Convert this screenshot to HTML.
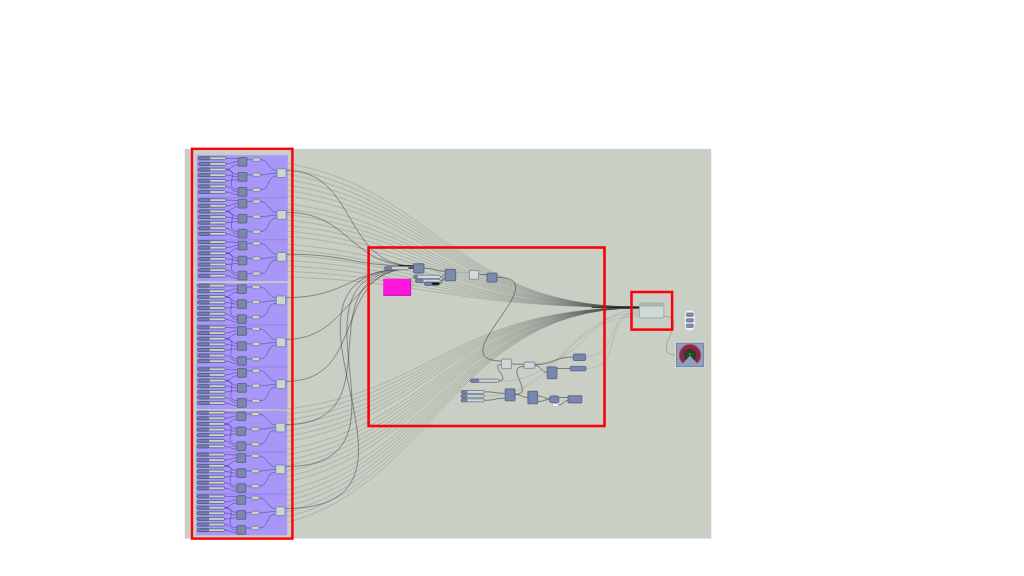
<!DOCTYPE html>
<html><head><meta charset="utf-8"><title>Grasshopper definition</title>
<style>
html,body{margin:0;padding:0;background:#fff;width:1024px;height:576px;overflow:hidden;font-family:"Liberation Sans",sans-serif}
svg{display:block;position:absolute;left:0;top:0}
</style></head><body>
<svg width="1024" height="576" viewBox="0 0 1024 576">
<defs><clipPath id="cv"><rect x="184.5" y="148.8" width="527" height="390"/></clipPath><filter id="bl" x="-5%" y="-5%" width="110%" height="110%"><feGaussianBlur stdDeviation="0.42"/></filter><filter id="bl2" x="-30%" y="-30%" width="160%" height="160%"><feGaussianBlur stdDeviation="0.7"/></filter></defs>
<g filter="url(#bl)">
<g clip-path="url(#cv)">
<rect x="184.5" y="148.8" width="527" height="390" fill="#c9cfc4"/>
<path d="M226 158.3C432.7 158.3 432.7 307.13 639.4 307.13M226 163.92C432.7 163.92 432.7 307.14 639.4 307.14M226 169.54C432.7 169.54 432.7 307.15 639.4 307.15M226 175.16C432.7 175.16 432.7 307.16 639.4 307.16M226 180.78C432.7 180.78 432.7 307.18 639.4 307.18M226 186.4C432.7 186.4 432.7 307.19 639.4 307.19M226 192.02C432.7 192.02 432.7 307.2 639.4 307.2M226 200.17C432.7 200.17 432.7 307.21 639.4 307.21M226 205.79C432.7 205.79 432.7 307.22 639.4 307.22M226 211.41C432.7 211.41 432.7 307.24 639.4 307.24M226 217.03C432.7 217.03 432.7 307.25 639.4 307.25M226 222.65C432.7 222.65 432.7 307.26 639.4 307.26M226 228.27C432.7 228.27 432.7 307.27 639.4 307.27M226 233.89C432.7 233.89 432.7 307.28 639.4 307.28M226 242.04C432.7 242.04 432.7 307.3 639.4 307.3M226 247.66C432.7 247.66 432.7 307.31 639.4 307.31M226 253.28C432.7 253.28 432.7 307.32 639.4 307.32M226 258.9C432.7 258.9 432.7 307.33 639.4 307.33M226 264.52C432.7 264.52 432.7 307.34 639.4 307.34M226 270.14C432.7 270.14 432.7 307.36 639.4 307.36M226 275.76C432.7 275.76 432.7 307.37 639.4 307.37M224.8 412.7C432.1 412.7 432.1 307.63 639.4 307.63M224.8 418.32C432.1 418.32 432.1 307.64 639.4 307.64M224.8 423.94C432.1 423.94 432.1 307.66 639.4 307.66M224.8 429.56C432.1 429.56 432.1 307.67 639.4 307.67M224.8 435.18C432.1 435.18 432.1 307.68 639.4 307.68M224.8 440.8C432.1 440.8 432.1 307.69 639.4 307.69M224.8 446.42C432.1 446.42 432.1 307.7 639.4 307.7M224.8 454.57C432.1 454.57 432.1 307.72 639.4 307.72M224.8 460.19C432.1 460.19 432.1 307.73 639.4 307.73M224.8 465.81C432.1 465.81 432.1 307.74 639.4 307.74M224.8 471.43C432.1 471.43 432.1 307.75 639.4 307.75M224.8 477.05C432.1 477.05 432.1 307.76 639.4 307.76M224.8 482.67C432.1 482.67 432.1 307.78 639.4 307.78M224.8 488.29C432.1 488.29 432.1 307.79 639.4 307.79M224.8 496.44C432.1 496.44 432.1 307.8 639.4 307.8M224.8 502.06C432.1 502.06 432.1 307.81 639.4 307.81M224.8 507.68C432.1 507.68 432.1 307.82 639.4 307.82M224.8 513.3C432.1 513.3 432.1 307.84 639.4 307.84M224.8 518.92C432.1 518.92 432.1 307.85 639.4 307.85M224.8 524.54C432.1 524.54 432.1 307.86 639.4 307.86M224.8 530.16C432.1 530.16 432.1 307.87 639.4 307.87" fill="none" stroke="#434f46" stroke-opacity=".38" stroke-width=".55"/>
<rect x="196.8" y="155.2" width="91" height="126.1" fill="#a38eff" fill-opacity=".86"/>
<rect x="196.8" y="196.97" width="91" height="1.6" fill="#8f7cf0" fill-opacity=".55"/>
<rect x="196.8" y="238.84" width="91" height="1.6" fill="#8f7cf0" fill-opacity=".55"/>
<rect x="196.5" y="283" width="91" height="126.2" fill="#a38eff" fill-opacity=".86"/>
<rect x="196.5" y="324.27" width="91" height="1.6" fill="#8f7cf0" fill-opacity=".55"/>
<rect x="196.5" y="366.14" width="91" height="1.6" fill="#8f7cf0" fill-opacity=".55"/>
<rect x="196.2" y="410.8" width="91" height="124.5" fill="#a38eff" fill-opacity=".86"/>
<rect x="196.2" y="451.37" width="91" height="1.6" fill="#8f7cf0" fill-opacity=".55"/>
<rect x="196.2" y="493.24" width="91" height="1.6" fill="#8f7cf0" fill-opacity=".55"/>
<path d="M455.7 272.5C462.55 272.5 462.55 272.6 469.4 272.6M411 287C418.58 287 406.42 276.9 414 276.9M423.9 270.5C428.85 270.5 409.05 276.9 414 276.9M585.6 356.4C619.35 356.4 605.65 311.4 639.4 311.4M585.9 368.5C626.32 368.5 598.98 314.6 639.4 314.6M534.9 363.4C587.15 363.4 587.15 309.8 639.4 309.8M499.1 381.3C569.25 381.3 569.25 313 639.4 313M484.4 396.2C561.9 396.2 561.9 316 639.4 316" fill="none" stroke="#4f5a52" stroke-opacity=".3" stroke-width=".5"/>
<path d="M286.2 170.4C357.9 170.4 342.1 266 413.8 266M286.2 212.27C350 212.27 350 266 413.8 266M286.2 254.14C350 254.14 350 266 413.8 266M285.6 297.7C349.7 297.7 349.7 268.1 413.8 268.1M285.6 339.57C349.7 339.57 349.7 268.1 413.8 268.1M285.6 381.44C370.6 381.44 328.8 268.1 413.8 268.1M285 424.8C402.52 424.8 296.28 268.1 413.8 268.1M285 466.67C433.93 466.67 264.87 268.1 413.8 268.1M285 508.54C465.33 508.54 233.47 268.1 413.8 268.1" fill="none" stroke="#39333f" stroke-opacity=".7" stroke-width=".68"/>
<path d="M247.2 159.65L252.8 159.65M247.2 174.75L252.8 174.75M247.2 189.85L252.8 189.85M260.2 159.65C268.6 159.65 268.6 170.5 277 170.5M260.2 174.75C268.6 174.75 268.6 173.3 277 173.3M260.2 189.85C270.66 189.85 266.54 175.9 277 175.9M226 158.3C231.9 158.3 231.9 158.6 237.8 158.6M226 163.92C231.9 163.92 231.9 161.6 237.8 161.6M226 169.54C231.9 169.54 231.9 164.6 237.8 164.6M226 169.54C231.9 169.54 231.9 174.4 237.8 174.4M226 169.54C241.05 169.54 222.75 189.6 237.8 189.6M226 175.16C231.9 175.16 231.9 176.8 237.8 176.8M226 180.78C231.9 180.78 231.9 179.6 237.8 179.6M226 186.4C231.9 186.4 231.9 192.2 237.8 192.2M226 192.02C231.9 192.02 231.9 194.8 237.8 194.8M247.2 201.52L252.8 201.52M247.2 216.62L252.8 216.62M247.2 231.72L252.8 231.72M260.2 201.52C268.6 201.52 268.6 212.37 277 212.37M260.2 216.62C268.6 216.62 268.6 215.17 277 215.17M260.2 231.72C270.66 231.72 266.54 217.77 277 217.77M226 200.17C231.9 200.17 231.9 200.47 237.8 200.47M226 205.79C231.9 205.79 231.9 203.47 237.8 203.47M226 211.41C231.9 211.41 231.9 206.47 237.8 206.47M226 211.41C231.9 211.41 231.9 216.27 237.8 216.27M226 211.41C241.05 211.41 222.75 231.47 237.8 231.47M226 217.03C231.9 217.03 231.9 218.67 237.8 218.67M226 222.65C231.9 222.65 231.9 221.47 237.8 221.47M226 228.27C231.9 228.27 231.9 234.07 237.8 234.07M226 233.89C231.9 233.89 231.9 236.67 237.8 236.67M247.2 243.39L252.8 243.39M247.2 258.49L252.8 258.49M247.2 273.59L252.8 273.59M260.2 243.39C268.6 243.39 268.6 254.24 277 254.24M260.2 258.49C268.6 258.49 268.6 257.04 277 257.04M260.2 273.59C270.66 273.59 266.54 259.64 277 259.64M226 242.04C231.9 242.04 231.9 242.34 237.8 242.34M226 247.66C231.9 247.66 231.9 245.34 237.8 245.34M226 253.28C231.9 253.28 231.9 248.34 237.8 248.34M226 253.28C231.9 253.28 231.9 258.14 237.8 258.14M226 253.28C241.05 253.28 222.75 273.34 237.8 273.34M226 258.9C231.9 258.9 231.9 260.54 237.8 260.54M226 264.52C231.9 264.52 231.9 263.34 237.8 263.34M226 270.14C231.9 270.14 231.9 275.94 237.8 275.94M226 275.76C231.9 275.76 231.9 278.54 237.8 278.54M246.6 286.95L252.2 286.95M246.6 302.05L252.2 302.05M246.6 317.15L252.2 317.15M259.6 286.95C268 286.95 268 297.8 276.4 297.8M259.6 302.05C268 302.05 268 300.6 276.4 300.6M259.6 317.15C270.06 317.15 265.94 303.2 276.4 303.2M225.4 285.6C231.3 285.6 231.3 285.9 237.2 285.9M225.4 291.22C231.3 291.22 231.3 288.9 237.2 288.9M225.4 296.84C231.3 296.84 231.3 291.9 237.2 291.9M225.4 296.84C231.3 296.84 231.3 301.7 237.2 301.7M225.4 296.84C240.44 296.84 222.16 316.9 237.2 316.9M225.4 302.46C231.3 302.46 231.3 304.1 237.2 304.1M225.4 308.08C231.3 308.08 231.3 306.9 237.2 306.9M225.4 313.7C231.3 313.7 231.3 319.5 237.2 319.5M225.4 319.32C231.3 319.32 231.3 322.1 237.2 322.1M246.6 328.82L252.2 328.82M246.6 343.92L252.2 343.92M246.6 359.02L252.2 359.02M259.6 328.82C268 328.82 268 339.67 276.4 339.67M259.6 343.92C268 343.92 268 342.47 276.4 342.47M259.6 359.02C270.06 359.02 265.94 345.07 276.4 345.07M225.4 327.47C231.3 327.47 231.3 327.77 237.2 327.77M225.4 333.09C231.3 333.09 231.3 330.77 237.2 330.77M225.4 338.71C231.3 338.71 231.3 333.77 237.2 333.77M225.4 338.71C231.3 338.71 231.3 343.57 237.2 343.57M225.4 338.71C240.44 338.71 222.16 358.77 237.2 358.77M225.4 344.33C231.3 344.33 231.3 345.97 237.2 345.97M225.4 349.95C231.3 349.95 231.3 348.77 237.2 348.77M225.4 355.57C231.3 355.57 231.3 361.37 237.2 361.37M225.4 361.19C231.3 361.19 231.3 363.97 237.2 363.97M246.6 370.69L252.2 370.69M246.6 385.79L252.2 385.79M246.6 400.89L252.2 400.89M259.6 370.69C268 370.69 268 381.54 276.4 381.54M259.6 385.79C268 385.79 268 384.34 276.4 384.34M259.6 400.89C270.06 400.89 265.94 386.94 276.4 386.94M225.4 369.34C231.3 369.34 231.3 369.64 237.2 369.64M225.4 374.96C231.3 374.96 231.3 372.64 237.2 372.64M225.4 380.58C231.3 380.58 231.3 375.64 237.2 375.64M225.4 380.58C231.3 380.58 231.3 385.44 237.2 385.44M225.4 380.58C240.44 380.58 222.16 400.64 237.2 400.64M225.4 386.2C231.3 386.2 231.3 387.84 237.2 387.84M225.4 391.82C231.3 391.82 231.3 390.64 237.2 390.64M225.4 397.44C231.3 397.44 231.3 403.24 237.2 403.24M225.4 403.06C231.3 403.06 231.3 405.84 237.2 405.84M246 414.05L251.6 414.05M246 429.15L251.6 429.15M246 444.25L251.6 444.25M259 414.05C267.4 414.05 267.4 424.9 275.8 424.9M259 429.15C267.4 429.15 267.4 427.7 275.8 427.7M259 444.25C269.46 444.25 265.34 430.3 275.8 430.3M224.8 412.7C230.7 412.7 230.7 413 236.6 413M224.8 418.32C230.7 418.32 230.7 416 236.6 416M224.8 423.94C230.7 423.94 230.7 419 236.6 419M224.8 423.94C230.7 423.94 230.7 428.8 236.6 428.8M224.8 423.94C239.84 423.94 221.56 444 236.6 444M224.8 429.56C230.7 429.56 230.7 431.2 236.6 431.2M224.8 435.18C230.7 435.18 230.7 434 236.6 434M224.8 440.8C230.7 440.8 230.7 446.6 236.6 446.6M224.8 446.42C230.7 446.42 230.7 449.2 236.6 449.2M246 455.92L251.6 455.92M246 471.02L251.6 471.02M246 486.12L251.6 486.12M259 455.92C267.4 455.92 267.4 466.77 275.8 466.77M259 471.02C267.4 471.02 267.4 469.57 275.8 469.57M259 486.12C269.46 486.12 265.34 472.17 275.8 472.17M224.8 454.57C230.7 454.57 230.7 454.87 236.6 454.87M224.8 460.19C230.7 460.19 230.7 457.87 236.6 457.87M224.8 465.81C230.7 465.81 230.7 460.87 236.6 460.87M224.8 465.81C230.7 465.81 230.7 470.67 236.6 470.67M224.8 465.81C239.84 465.81 221.56 485.87 236.6 485.87M224.8 471.43C230.7 471.43 230.7 473.07 236.6 473.07M224.8 477.05C230.7 477.05 230.7 475.87 236.6 475.87M224.8 482.67C230.7 482.67 230.7 488.47 236.6 488.47M224.8 488.29C230.7 488.29 230.7 491.07 236.6 491.07M246 497.79L251.6 497.79M246 512.89L251.6 512.89M246 527.99L251.6 527.99M259 497.79C267.4 497.79 267.4 508.64 275.8 508.64M259 512.89C267.4 512.89 267.4 511.44 275.8 511.44M259 527.99C269.46 527.99 265.34 514.04 275.8 514.04M224.8 496.44C230.7 496.44 230.7 496.74 236.6 496.74M224.8 502.06C230.7 502.06 230.7 499.74 236.6 499.74M224.8 507.68C230.7 507.68 230.7 502.74 236.6 502.74M224.8 507.68C230.7 507.68 230.7 512.54 236.6 512.54M224.8 507.68C239.84 507.68 221.56 527.74 236.6 527.74M224.8 513.3C230.7 513.3 230.7 514.94 236.6 514.94M224.8 518.92C230.7 518.92 230.7 517.74 236.6 517.74M224.8 524.54C230.7 524.54 230.7 530.34 236.6 530.34M224.8 530.16C230.7 530.16 230.7 532.94 236.6 532.94" fill="none" stroke="#35289a" stroke-opacity=".7" stroke-width=".62"/>
<path d="M423.9 268.2C434.55 268.2 434.55 271.2 445.2 271.2M478.5 274.6C482.75 274.6 482.75 274.6 487 274.6M497 277.2C559.85 277.2 438.65 361 501.5 361M440.5 276.9C442.85 276.9 442.85 274.5 445.2 274.5M440.3 280.9C443.23 280.9 442.27 277 445.2 277M439.6 283.7C443.12 283.7 441.68 279 445.2 279M499.1 380.6C511.25 380.6 489.35 364.4 501.5 364.4M511.4 364C517.75 364 517.75 364.3 524.1 364.3M534.9 365.4C541.05 365.4 541.05 372.4 547.2 372.4M534.9 364.6C554.1 364.6 554.1 357 573.3 357M556.9 368.5C563.55 368.5 563.55 368.5 570.2 368.5M484.4 391.8C494.8 391.8 494.8 393.3 505.2 393.3M484.4 400.3C494.8 400.3 494.8 398.2 505.2 398.2M515 394.4C521.45 394.4 521.45 397.4 527.9 397.4M515 394.4C536 394.4 503.1 366.4 524.1 366.4M537.6 396C543.7 396 543.7 398.7 549.8 398.7M537.6 401.5C543.7 401.5 543.7 399.6 549.8 399.6M558.8 397.5C563.45 397.5 563.45 397.5 568.1 397.5M558.8 405.1C563.45 405.1 563.45 400.4 568.1 400.4" fill="none" stroke="#4a524c" stroke-opacity=".85" stroke-width=".8"/>
<path d="M663.8 316.2C692.9 316.2 647.2 355 676.3 355" fill="none" stroke="#4a524c" stroke-opacity=".55" stroke-width=".6"/>
<path d="M399 265.5Q407 266 413.8 266" fill="none" stroke="#15181a" stroke-width=".9" stroke-linecap="round"/>
<path d="M592 307.3L639.4 307.5" fill="none" stroke="#1c201d" stroke-width="1" stroke-linecap="round"/>
<rect x="198.5" y="156.9" width="27.4" height="2.8" rx="1.3" fill="#cad6cd" stroke="#505a8a" stroke-width=".8"/>
<rect x="198.5" y="156.9" width="11.3" height="2.8" rx="1" fill="#7686a2" stroke="#4f5886" stroke-width=".8"/>
<rect x="198.5" y="162.52" width="27.4" height="2.8" rx="1.3" fill="#cad6cd" stroke="#505a8a" stroke-width=".8"/>
<rect x="198.5" y="162.52" width="11.3" height="2.8" rx="1" fill="#7686a2" stroke="#4f5886" stroke-width=".8"/>
<rect x="198.5" y="168.14" width="27.4" height="2.8" rx="1.3" fill="#cad6cd" stroke="#505a8a" stroke-width=".8"/>
<rect x="198.5" y="168.14" width="11.3" height="2.8" rx="1" fill="#7686a2" stroke="#4f5886" stroke-width=".8"/>
<rect x="198.5" y="173.76" width="27.4" height="2.8" rx="1.3" fill="#cad6cd" stroke="#505a8a" stroke-width=".8"/>
<rect x="198.5" y="173.76" width="11.3" height="2.8" rx="1" fill="#7686a2" stroke="#4f5886" stroke-width=".8"/>
<rect x="198.5" y="179.38" width="27.4" height="2.8" rx="1.3" fill="#cad6cd" stroke="#505a8a" stroke-width=".8"/>
<rect x="198.5" y="179.38" width="11.3" height="2.8" rx="1" fill="#7686a2" stroke="#4f5886" stroke-width=".8"/>
<rect x="198.5" y="185" width="27.4" height="2.8" rx="1.3" fill="#cad6cd" stroke="#505a8a" stroke-width=".8"/>
<rect x="198.5" y="185" width="11.3" height="2.8" rx="1" fill="#7686a2" stroke="#4f5886" stroke-width=".8"/>
<rect x="198.5" y="190.62" width="27.4" height="2.8" rx="1.3" fill="#cad6cd" stroke="#505a8a" stroke-width=".8"/>
<rect x="198.5" y="190.62" width="11.3" height="2.8" rx="1" fill="#7686a2" stroke="#4f5886" stroke-width=".8"/>
<rect x="238.1" y="157.55" width="8.8" height="8.6" rx=".4" fill="#7b89a6" stroke="#57628c" stroke-width=".9"/>
<rect x="238.1" y="172.55" width="8.8" height="8.6" rx=".4" fill="#7b89a6" stroke="#57628c" stroke-width=".9"/>
<rect x="238.1" y="187.55" width="8.8" height="8.6" rx=".4" fill="#7b89a6" stroke="#57628c" stroke-width=".9"/>
<rect x="252.8" y="157.95" width="7.4" height="3.4" rx=".8" fill="#ccd5c8" stroke="#6d76a6" stroke-width=".7"/>
<rect x="252.8" y="173.05" width="7.4" height="3.4" rx=".8" fill="#ccd5c8" stroke="#6d76a6" stroke-width=".7"/>
<rect x="252.8" y="188.15" width="7.4" height="3.4" rx=".8" fill="#ccd5c8" stroke="#6d76a6" stroke-width=".7"/>
<rect x="277" y="168.7" width="9.2" height="8.8" rx=".6" fill="#cbd6cf" stroke="#6f7ea6" stroke-width=".8"/>
<rect x="198.5" y="198.77" width="27.4" height="2.8" rx="1.3" fill="#cad6cd" stroke="#505a8a" stroke-width=".8"/>
<rect x="198.5" y="198.77" width="11.3" height="2.8" rx="1" fill="#7686a2" stroke="#4f5886" stroke-width=".8"/>
<rect x="198.5" y="204.39" width="27.4" height="2.8" rx="1.3" fill="#cad6cd" stroke="#505a8a" stroke-width=".8"/>
<rect x="198.5" y="204.39" width="11.3" height="2.8" rx="1" fill="#7686a2" stroke="#4f5886" stroke-width=".8"/>
<rect x="198.5" y="210.01" width="27.4" height="2.8" rx="1.3" fill="#cad6cd" stroke="#505a8a" stroke-width=".8"/>
<rect x="198.5" y="210.01" width="11.3" height="2.8" rx="1" fill="#7686a2" stroke="#4f5886" stroke-width=".8"/>
<rect x="198.5" y="215.63" width="27.4" height="2.8" rx="1.3" fill="#cad6cd" stroke="#505a8a" stroke-width=".8"/>
<rect x="198.5" y="215.63" width="11.3" height="2.8" rx="1" fill="#7686a2" stroke="#4f5886" stroke-width=".8"/>
<rect x="198.5" y="221.25" width="27.4" height="2.8" rx="1.3" fill="#cad6cd" stroke="#505a8a" stroke-width=".8"/>
<rect x="198.5" y="221.25" width="11.3" height="2.8" rx="1" fill="#7686a2" stroke="#4f5886" stroke-width=".8"/>
<rect x="198.5" y="226.87" width="27.4" height="2.8" rx="1.3" fill="#cad6cd" stroke="#505a8a" stroke-width=".8"/>
<rect x="198.5" y="226.87" width="11.3" height="2.8" rx="1" fill="#7686a2" stroke="#4f5886" stroke-width=".8"/>
<rect x="198.5" y="232.49" width="27.4" height="2.8" rx="1.3" fill="#cad6cd" stroke="#505a8a" stroke-width=".8"/>
<rect x="198.5" y="232.49" width="11.3" height="2.8" rx="1" fill="#7686a2" stroke="#4f5886" stroke-width=".8"/>
<rect x="238.1" y="199.42" width="8.8" height="8.6" rx=".4" fill="#7b89a6" stroke="#57628c" stroke-width=".9"/>
<rect x="238.1" y="214.42" width="8.8" height="8.6" rx=".4" fill="#7b89a6" stroke="#57628c" stroke-width=".9"/>
<rect x="238.1" y="229.42" width="8.8" height="8.6" rx=".4" fill="#7b89a6" stroke="#57628c" stroke-width=".9"/>
<rect x="252.8" y="199.82" width="7.4" height="3.4" rx=".8" fill="#ccd5c8" stroke="#6d76a6" stroke-width=".7"/>
<rect x="252.8" y="214.92" width="7.4" height="3.4" rx=".8" fill="#ccd5c8" stroke="#6d76a6" stroke-width=".7"/>
<rect x="252.8" y="230.02" width="7.4" height="3.4" rx=".8" fill="#ccd5c8" stroke="#6d76a6" stroke-width=".7"/>
<rect x="277" y="210.57" width="9.2" height="8.8" rx=".6" fill="#cbd6cf" stroke="#6f7ea6" stroke-width=".8"/>
<rect x="198.5" y="240.64" width="27.4" height="2.8" rx="1.3" fill="#cad6cd" stroke="#505a8a" stroke-width=".8"/>
<rect x="198.5" y="240.64" width="11.3" height="2.8" rx="1" fill="#7686a2" stroke="#4f5886" stroke-width=".8"/>
<rect x="198.5" y="246.26" width="27.4" height="2.8" rx="1.3" fill="#cad6cd" stroke="#505a8a" stroke-width=".8"/>
<rect x="198.5" y="246.26" width="11.3" height="2.8" rx="1" fill="#7686a2" stroke="#4f5886" stroke-width=".8"/>
<rect x="198.5" y="251.88" width="27.4" height="2.8" rx="1.3" fill="#cad6cd" stroke="#505a8a" stroke-width=".8"/>
<rect x="198.5" y="251.88" width="11.3" height="2.8" rx="1" fill="#7686a2" stroke="#4f5886" stroke-width=".8"/>
<rect x="198.5" y="257.5" width="27.4" height="2.8" rx="1.3" fill="#cad6cd" stroke="#505a8a" stroke-width=".8"/>
<rect x="198.5" y="257.5" width="11.3" height="2.8" rx="1" fill="#7686a2" stroke="#4f5886" stroke-width=".8"/>
<rect x="198.5" y="263.12" width="27.4" height="2.8" rx="1.3" fill="#cad6cd" stroke="#505a8a" stroke-width=".8"/>
<rect x="198.5" y="263.12" width="11.3" height="2.8" rx="1" fill="#7686a2" stroke="#4f5886" stroke-width=".8"/>
<rect x="198.5" y="268.74" width="27.4" height="2.8" rx="1.3" fill="#cad6cd" stroke="#505a8a" stroke-width=".8"/>
<rect x="198.5" y="268.74" width="11.3" height="2.8" rx="1" fill="#7686a2" stroke="#4f5886" stroke-width=".8"/>
<rect x="198.5" y="274.36" width="27.4" height="2.8" rx="1.3" fill="#cad6cd" stroke="#505a8a" stroke-width=".8"/>
<rect x="198.5" y="274.36" width="11.3" height="2.8" rx="1" fill="#7686a2" stroke="#4f5886" stroke-width=".8"/>
<rect x="238.1" y="241.29" width="8.8" height="8.6" rx=".4" fill="#7b89a6" stroke="#57628c" stroke-width=".9"/>
<rect x="238.1" y="256.29" width="8.8" height="8.6" rx=".4" fill="#7b89a6" stroke="#57628c" stroke-width=".9"/>
<rect x="238.1" y="271.29" width="8.8" height="8.6" rx=".4" fill="#7b89a6" stroke="#57628c" stroke-width=".9"/>
<rect x="252.8" y="241.69" width="7.4" height="3.4" rx=".8" fill="#ccd5c8" stroke="#6d76a6" stroke-width=".7"/>
<rect x="252.8" y="256.79" width="7.4" height="3.4" rx=".8" fill="#ccd5c8" stroke="#6d76a6" stroke-width=".7"/>
<rect x="252.8" y="271.89" width="7.4" height="3.4" rx=".8" fill="#ccd5c8" stroke="#6d76a6" stroke-width=".7"/>
<rect x="277" y="252.44" width="9.2" height="8.8" rx=".6" fill="#cbd6cf" stroke="#6f7ea6" stroke-width=".8"/>
<rect x="197.9" y="284.2" width="27.4" height="2.8" rx="1.3" fill="#cad6cd" stroke="#505a8a" stroke-width=".8"/>
<rect x="197.9" y="284.2" width="11.3" height="2.8" rx="1" fill="#7686a2" stroke="#4f5886" stroke-width=".8"/>
<rect x="197.9" y="289.82" width="27.4" height="2.8" rx="1.3" fill="#cad6cd" stroke="#505a8a" stroke-width=".8"/>
<rect x="197.9" y="289.82" width="11.3" height="2.8" rx="1" fill="#7686a2" stroke="#4f5886" stroke-width=".8"/>
<rect x="197.9" y="295.44" width="27.4" height="2.8" rx="1.3" fill="#cad6cd" stroke="#505a8a" stroke-width=".8"/>
<rect x="197.9" y="295.44" width="11.3" height="2.8" rx="1" fill="#7686a2" stroke="#4f5886" stroke-width=".8"/>
<rect x="197.9" y="301.06" width="27.4" height="2.8" rx="1.3" fill="#cad6cd" stroke="#505a8a" stroke-width=".8"/>
<rect x="197.9" y="301.06" width="11.3" height="2.8" rx="1" fill="#7686a2" stroke="#4f5886" stroke-width=".8"/>
<rect x="197.9" y="306.68" width="27.4" height="2.8" rx="1.3" fill="#cad6cd" stroke="#505a8a" stroke-width=".8"/>
<rect x="197.9" y="306.68" width="11.3" height="2.8" rx="1" fill="#7686a2" stroke="#4f5886" stroke-width=".8"/>
<rect x="197.9" y="312.3" width="27.4" height="2.8" rx="1.3" fill="#cad6cd" stroke="#505a8a" stroke-width=".8"/>
<rect x="197.9" y="312.3" width="11.3" height="2.8" rx="1" fill="#7686a2" stroke="#4f5886" stroke-width=".8"/>
<rect x="197.9" y="317.92" width="27.4" height="2.8" rx="1.3" fill="#cad6cd" stroke="#505a8a" stroke-width=".8"/>
<rect x="197.9" y="317.92" width="11.3" height="2.8" rx="1" fill="#7686a2" stroke="#4f5886" stroke-width=".8"/>
<rect x="237.5" y="284.85" width="8.8" height="8.6" rx=".4" fill="#7b89a6" stroke="#57628c" stroke-width=".9"/>
<rect x="237.5" y="299.85" width="8.8" height="8.6" rx=".4" fill="#7b89a6" stroke="#57628c" stroke-width=".9"/>
<rect x="237.5" y="314.85" width="8.8" height="8.6" rx=".4" fill="#7b89a6" stroke="#57628c" stroke-width=".9"/>
<rect x="252.2" y="285.25" width="7.4" height="3.4" rx=".8" fill="#ccd5c8" stroke="#6d76a6" stroke-width=".7"/>
<rect x="252.2" y="300.35" width="7.4" height="3.4" rx=".8" fill="#ccd5c8" stroke="#6d76a6" stroke-width=".7"/>
<rect x="252.2" y="315.45" width="7.4" height="3.4" rx=".8" fill="#ccd5c8" stroke="#6d76a6" stroke-width=".7"/>
<rect x="276.4" y="296" width="9.2" height="8.8" rx=".6" fill="#cbd6cf" stroke="#6f7ea6" stroke-width=".8"/>
<rect x="197.9" y="326.07" width="27.4" height="2.8" rx="1.3" fill="#cad6cd" stroke="#505a8a" stroke-width=".8"/>
<rect x="197.9" y="326.07" width="11.3" height="2.8" rx="1" fill="#7686a2" stroke="#4f5886" stroke-width=".8"/>
<rect x="197.9" y="331.69" width="27.4" height="2.8" rx="1.3" fill="#cad6cd" stroke="#505a8a" stroke-width=".8"/>
<rect x="197.9" y="331.69" width="11.3" height="2.8" rx="1" fill="#7686a2" stroke="#4f5886" stroke-width=".8"/>
<rect x="197.9" y="337.31" width="27.4" height="2.8" rx="1.3" fill="#cad6cd" stroke="#505a8a" stroke-width=".8"/>
<rect x="197.9" y="337.31" width="11.3" height="2.8" rx="1" fill="#7686a2" stroke="#4f5886" stroke-width=".8"/>
<rect x="197.9" y="342.93" width="27.4" height="2.8" rx="1.3" fill="#cad6cd" stroke="#505a8a" stroke-width=".8"/>
<rect x="197.9" y="342.93" width="11.3" height="2.8" rx="1" fill="#7686a2" stroke="#4f5886" stroke-width=".8"/>
<rect x="197.9" y="348.55" width="27.4" height="2.8" rx="1.3" fill="#cad6cd" stroke="#505a8a" stroke-width=".8"/>
<rect x="197.9" y="348.55" width="11.3" height="2.8" rx="1" fill="#7686a2" stroke="#4f5886" stroke-width=".8"/>
<rect x="197.9" y="354.17" width="27.4" height="2.8" rx="1.3" fill="#cad6cd" stroke="#505a8a" stroke-width=".8"/>
<rect x="197.9" y="354.17" width="11.3" height="2.8" rx="1" fill="#7686a2" stroke="#4f5886" stroke-width=".8"/>
<rect x="197.9" y="359.79" width="27.4" height="2.8" rx="1.3" fill="#cad6cd" stroke="#505a8a" stroke-width=".8"/>
<rect x="197.9" y="359.79" width="11.3" height="2.8" rx="1" fill="#7686a2" stroke="#4f5886" stroke-width=".8"/>
<rect x="237.5" y="326.72" width="8.8" height="8.6" rx=".4" fill="#7b89a6" stroke="#57628c" stroke-width=".9"/>
<rect x="237.5" y="341.72" width="8.8" height="8.6" rx=".4" fill="#7b89a6" stroke="#57628c" stroke-width=".9"/>
<rect x="237.5" y="356.72" width="8.8" height="8.6" rx=".4" fill="#7b89a6" stroke="#57628c" stroke-width=".9"/>
<rect x="252.2" y="327.12" width="7.4" height="3.4" rx=".8" fill="#ccd5c8" stroke="#6d76a6" stroke-width=".7"/>
<rect x="252.2" y="342.22" width="7.4" height="3.4" rx=".8" fill="#ccd5c8" stroke="#6d76a6" stroke-width=".7"/>
<rect x="252.2" y="357.32" width="7.4" height="3.4" rx=".8" fill="#ccd5c8" stroke="#6d76a6" stroke-width=".7"/>
<rect x="276.4" y="337.87" width="9.2" height="8.8" rx=".6" fill="#cbd6cf" stroke="#6f7ea6" stroke-width=".8"/>
<rect x="197.9" y="367.94" width="27.4" height="2.8" rx="1.3" fill="#cad6cd" stroke="#505a8a" stroke-width=".8"/>
<rect x="197.9" y="367.94" width="11.3" height="2.8" rx="1" fill="#7686a2" stroke="#4f5886" stroke-width=".8"/>
<rect x="197.9" y="373.56" width="27.4" height="2.8" rx="1.3" fill="#cad6cd" stroke="#505a8a" stroke-width=".8"/>
<rect x="197.9" y="373.56" width="11.3" height="2.8" rx="1" fill="#7686a2" stroke="#4f5886" stroke-width=".8"/>
<rect x="197.9" y="379.18" width="27.4" height="2.8" rx="1.3" fill="#cad6cd" stroke="#505a8a" stroke-width=".8"/>
<rect x="197.9" y="379.18" width="11.3" height="2.8" rx="1" fill="#7686a2" stroke="#4f5886" stroke-width=".8"/>
<rect x="197.9" y="384.8" width="27.4" height="2.8" rx="1.3" fill="#cad6cd" stroke="#505a8a" stroke-width=".8"/>
<rect x="197.9" y="384.8" width="11.3" height="2.8" rx="1" fill="#7686a2" stroke="#4f5886" stroke-width=".8"/>
<rect x="197.9" y="390.42" width="27.4" height="2.8" rx="1.3" fill="#cad6cd" stroke="#505a8a" stroke-width=".8"/>
<rect x="197.9" y="390.42" width="11.3" height="2.8" rx="1" fill="#7686a2" stroke="#4f5886" stroke-width=".8"/>
<rect x="197.9" y="396.04" width="27.4" height="2.8" rx="1.3" fill="#cad6cd" stroke="#505a8a" stroke-width=".8"/>
<rect x="197.9" y="396.04" width="11.3" height="2.8" rx="1" fill="#7686a2" stroke="#4f5886" stroke-width=".8"/>
<rect x="197.9" y="401.66" width="27.4" height="2.8" rx="1.3" fill="#cad6cd" stroke="#505a8a" stroke-width=".8"/>
<rect x="197.9" y="401.66" width="11.3" height="2.8" rx="1" fill="#7686a2" stroke="#4f5886" stroke-width=".8"/>
<rect x="237.5" y="368.59" width="8.8" height="8.6" rx=".4" fill="#7b89a6" stroke="#57628c" stroke-width=".9"/>
<rect x="237.5" y="383.59" width="8.8" height="8.6" rx=".4" fill="#7b89a6" stroke="#57628c" stroke-width=".9"/>
<rect x="237.5" y="398.59" width="8.8" height="8.6" rx=".4" fill="#7b89a6" stroke="#57628c" stroke-width=".9"/>
<rect x="252.2" y="368.99" width="7.4" height="3.4" rx=".8" fill="#ccd5c8" stroke="#6d76a6" stroke-width=".7"/>
<rect x="252.2" y="384.09" width="7.4" height="3.4" rx=".8" fill="#ccd5c8" stroke="#6d76a6" stroke-width=".7"/>
<rect x="252.2" y="399.19" width="7.4" height="3.4" rx=".8" fill="#ccd5c8" stroke="#6d76a6" stroke-width=".7"/>
<rect x="276.4" y="379.74" width="9.2" height="8.8" rx=".6" fill="#cbd6cf" stroke="#6f7ea6" stroke-width=".8"/>
<rect x="197.3" y="411.3" width="27.4" height="2.8" rx="1.3" fill="#cad6cd" stroke="#505a8a" stroke-width=".8"/>
<rect x="197.3" y="411.3" width="11.3" height="2.8" rx="1" fill="#7686a2" stroke="#4f5886" stroke-width=".8"/>
<rect x="197.3" y="416.92" width="27.4" height="2.8" rx="1.3" fill="#cad6cd" stroke="#505a8a" stroke-width=".8"/>
<rect x="197.3" y="416.92" width="11.3" height="2.8" rx="1" fill="#7686a2" stroke="#4f5886" stroke-width=".8"/>
<rect x="197.3" y="422.54" width="27.4" height="2.8" rx="1.3" fill="#cad6cd" stroke="#505a8a" stroke-width=".8"/>
<rect x="197.3" y="422.54" width="11.3" height="2.8" rx="1" fill="#7686a2" stroke="#4f5886" stroke-width=".8"/>
<rect x="197.3" y="428.16" width="27.4" height="2.8" rx="1.3" fill="#cad6cd" stroke="#505a8a" stroke-width=".8"/>
<rect x="197.3" y="428.16" width="11.3" height="2.8" rx="1" fill="#7686a2" stroke="#4f5886" stroke-width=".8"/>
<rect x="197.3" y="433.78" width="27.4" height="2.8" rx="1.3" fill="#cad6cd" stroke="#505a8a" stroke-width=".8"/>
<rect x="197.3" y="433.78" width="11.3" height="2.8" rx="1" fill="#7686a2" stroke="#4f5886" stroke-width=".8"/>
<rect x="197.3" y="439.4" width="27.4" height="2.8" rx="1.3" fill="#cad6cd" stroke="#505a8a" stroke-width=".8"/>
<rect x="197.3" y="439.4" width="11.3" height="2.8" rx="1" fill="#7686a2" stroke="#4f5886" stroke-width=".8"/>
<rect x="197.3" y="445.02" width="27.4" height="2.8" rx="1.3" fill="#cad6cd" stroke="#505a8a" stroke-width=".8"/>
<rect x="197.3" y="445.02" width="11.3" height="2.8" rx="1" fill="#7686a2" stroke="#4f5886" stroke-width=".8"/>
<rect x="236.9" y="411.95" width="8.8" height="8.6" rx=".4" fill="#7b89a6" stroke="#57628c" stroke-width=".9"/>
<rect x="236.9" y="426.95" width="8.8" height="8.6" rx=".4" fill="#7b89a6" stroke="#57628c" stroke-width=".9"/>
<rect x="236.9" y="441.95" width="8.8" height="8.6" rx=".4" fill="#7b89a6" stroke="#57628c" stroke-width=".9"/>
<rect x="251.6" y="412.35" width="7.4" height="3.4" rx=".8" fill="#ccd5c8" stroke="#6d76a6" stroke-width=".7"/>
<rect x="251.6" y="427.45" width="7.4" height="3.4" rx=".8" fill="#ccd5c8" stroke="#6d76a6" stroke-width=".7"/>
<rect x="251.6" y="442.55" width="7.4" height="3.4" rx=".8" fill="#ccd5c8" stroke="#6d76a6" stroke-width=".7"/>
<rect x="275.8" y="423.1" width="9.2" height="8.8" rx=".6" fill="#cbd6cf" stroke="#6f7ea6" stroke-width=".8"/>
<rect x="197.3" y="453.17" width="27.4" height="2.8" rx="1.3" fill="#cad6cd" stroke="#505a8a" stroke-width=".8"/>
<rect x="197.3" y="453.17" width="11.3" height="2.8" rx="1" fill="#7686a2" stroke="#4f5886" stroke-width=".8"/>
<rect x="197.3" y="458.79" width="27.4" height="2.8" rx="1.3" fill="#cad6cd" stroke="#505a8a" stroke-width=".8"/>
<rect x="197.3" y="458.79" width="11.3" height="2.8" rx="1" fill="#7686a2" stroke="#4f5886" stroke-width=".8"/>
<rect x="197.3" y="464.41" width="27.4" height="2.8" rx="1.3" fill="#cad6cd" stroke="#505a8a" stroke-width=".8"/>
<rect x="197.3" y="464.41" width="11.3" height="2.8" rx="1" fill="#7686a2" stroke="#4f5886" stroke-width=".8"/>
<rect x="197.3" y="470.03" width="27.4" height="2.8" rx="1.3" fill="#cad6cd" stroke="#505a8a" stroke-width=".8"/>
<rect x="197.3" y="470.03" width="11.3" height="2.8" rx="1" fill="#7686a2" stroke="#4f5886" stroke-width=".8"/>
<rect x="197.3" y="475.65" width="27.4" height="2.8" rx="1.3" fill="#cad6cd" stroke="#505a8a" stroke-width=".8"/>
<rect x="197.3" y="475.65" width="11.3" height="2.8" rx="1" fill="#7686a2" stroke="#4f5886" stroke-width=".8"/>
<rect x="197.3" y="481.27" width="27.4" height="2.8" rx="1.3" fill="#cad6cd" stroke="#505a8a" stroke-width=".8"/>
<rect x="197.3" y="481.27" width="11.3" height="2.8" rx="1" fill="#7686a2" stroke="#4f5886" stroke-width=".8"/>
<rect x="197.3" y="486.89" width="27.4" height="2.8" rx="1.3" fill="#cad6cd" stroke="#505a8a" stroke-width=".8"/>
<rect x="197.3" y="486.89" width="11.3" height="2.8" rx="1" fill="#7686a2" stroke="#4f5886" stroke-width=".8"/>
<rect x="236.9" y="453.82" width="8.8" height="8.6" rx=".4" fill="#7b89a6" stroke="#57628c" stroke-width=".9"/>
<rect x="236.9" y="468.82" width="8.8" height="8.6" rx=".4" fill="#7b89a6" stroke="#57628c" stroke-width=".9"/>
<rect x="236.9" y="483.82" width="8.8" height="8.6" rx=".4" fill="#7b89a6" stroke="#57628c" stroke-width=".9"/>
<rect x="251.6" y="454.22" width="7.4" height="3.4" rx=".8" fill="#ccd5c8" stroke="#6d76a6" stroke-width=".7"/>
<rect x="251.6" y="469.32" width="7.4" height="3.4" rx=".8" fill="#ccd5c8" stroke="#6d76a6" stroke-width=".7"/>
<rect x="251.6" y="484.42" width="7.4" height="3.4" rx=".8" fill="#ccd5c8" stroke="#6d76a6" stroke-width=".7"/>
<rect x="275.8" y="464.97" width="9.2" height="8.8" rx=".6" fill="#cbd6cf" stroke="#6f7ea6" stroke-width=".8"/>
<rect x="197.3" y="495.04" width="27.4" height="2.8" rx="1.3" fill="#cad6cd" stroke="#505a8a" stroke-width=".8"/>
<rect x="197.3" y="495.04" width="11.3" height="2.8" rx="1" fill="#7686a2" stroke="#4f5886" stroke-width=".8"/>
<rect x="197.3" y="500.66" width="27.4" height="2.8" rx="1.3" fill="#cad6cd" stroke="#505a8a" stroke-width=".8"/>
<rect x="197.3" y="500.66" width="11.3" height="2.8" rx="1" fill="#7686a2" stroke="#4f5886" stroke-width=".8"/>
<rect x="197.3" y="506.28" width="27.4" height="2.8" rx="1.3" fill="#cad6cd" stroke="#505a8a" stroke-width=".8"/>
<rect x="197.3" y="506.28" width="11.3" height="2.8" rx="1" fill="#7686a2" stroke="#4f5886" stroke-width=".8"/>
<rect x="197.3" y="511.9" width="27.4" height="2.8" rx="1.3" fill="#cad6cd" stroke="#505a8a" stroke-width=".8"/>
<rect x="197.3" y="511.9" width="11.3" height="2.8" rx="1" fill="#7686a2" stroke="#4f5886" stroke-width=".8"/>
<rect x="197.3" y="517.52" width="27.4" height="2.8" rx="1.3" fill="#cad6cd" stroke="#505a8a" stroke-width=".8"/>
<rect x="197.3" y="517.52" width="11.3" height="2.8" rx="1" fill="#7686a2" stroke="#4f5886" stroke-width=".8"/>
<rect x="197.3" y="523.14" width="27.4" height="2.8" rx="1.3" fill="#cad6cd" stroke="#505a8a" stroke-width=".8"/>
<rect x="197.3" y="523.14" width="11.3" height="2.8" rx="1" fill="#7686a2" stroke="#4f5886" stroke-width=".8"/>
<rect x="197.3" y="528.76" width="27.4" height="2.8" rx="1.3" fill="#cad6cd" stroke="#505a8a" stroke-width=".8"/>
<rect x="197.3" y="528.76" width="11.3" height="2.8" rx="1" fill="#7686a2" stroke="#4f5886" stroke-width=".8"/>
<rect x="236.9" y="495.69" width="8.8" height="8.6" rx=".4" fill="#7b89a6" stroke="#57628c" stroke-width=".9"/>
<rect x="236.9" y="510.69" width="8.8" height="8.6" rx=".4" fill="#7b89a6" stroke="#57628c" stroke-width=".9"/>
<rect x="236.9" y="525.69" width="8.8" height="8.6" rx=".4" fill="#7b89a6" stroke="#57628c" stroke-width=".9"/>
<rect x="251.6" y="496.09" width="7.4" height="3.4" rx=".8" fill="#ccd5c8" stroke="#6d76a6" stroke-width=".7"/>
<rect x="251.6" y="511.19" width="7.4" height="3.4" rx=".8" fill="#ccd5c8" stroke="#6d76a6" stroke-width=".7"/>
<rect x="251.6" y="526.29" width="7.4" height="3.4" rx=".8" fill="#ccd5c8" stroke="#6d76a6" stroke-width=".7"/>
<rect x="275.8" y="506.84" width="9.2" height="8.8" rx=".6" fill="#cbd6cf" stroke="#6f7ea6" stroke-width=".8"/>
<rect x="383.2" y="278.7" width="27.8" height="17" fill="#ff12dc"/>
<path d="M383.2 295.3H410.6V278.7" fill="none" stroke="#c40eb0" stroke-width=".9"/>
<rect x="384.5" y="266.7" width="24.3" height="3" rx="1.4" fill="#d4dcd6" stroke="#5e6888" stroke-width=".7"/>
<rect x="384.5" y="266.7" width="7.2" height="3" rx="1.3" fill="#7585a8" stroke="#59638a" stroke-width=".6"/>
<rect x="413.6" y="263.8" width="10.3" height="9.1" rx="0.4" fill="#7b89a8" stroke="#56618a" stroke-width="0.9"/>
<rect x="414" y="275.2" width="26.5" height="3.4" rx="1.4" fill="#d3dad9" stroke="#5e6888" stroke-width=".7"/>
<rect x="414" y="275.2" width="3.7" height="3.4" rx="1.3" fill="#7585a8" stroke="#59638a" stroke-width=".6"/>
<rect x="415.6" y="279.35" width="24.7" height="3.1" rx="1.4" fill="#d3dad9" stroke="#5e6888" stroke-width=".7"/>
<rect x="415.6" y="279.35" width="7.6" height="3.1" rx="1.3" fill="#7585a8" stroke="#59638a" stroke-width=".6"/>
<rect x="424.5" y="282.15" width="15.1" height="3.1" rx="1.4" fill="#15171c" stroke="#5e6888" stroke-width=".7"/>
<rect x="424.5" y="282.15" width="7.5" height="3.1" rx="1.3" fill="#7585a8" stroke="#59638a" stroke-width=".6"/>
<rect x="445.2" y="269.3" width="10.5" height="11.4" rx="0.4" fill="#7b89a8" stroke="#56618a" stroke-width="0.9"/>
<rect x="469.4" y="270.4" width="9.1" height="8.9" rx="0.4" fill="#d3dadb" stroke="#838f92" stroke-width="0.9"/>
<rect x="487" y="273.1" width="10" height="8.9" rx="0.4" fill="#7b89a8" stroke="#56618a" stroke-width="0.9"/>
<rect x="501.5" y="359.1" width="9.9" height="9.6" rx="0.4" fill="#cdd7d6" stroke="#86928f" stroke-width="0.9"/>
<rect x="524.1" y="362.1" width="10.8" height="6.3" rx="0.4" fill="#ccd6d8" stroke="#7a8796" stroke-width="0.9"/>
<rect x="547.2" y="366.9" width="9.7" height="11.8" rx="0.4" fill="#7787b0" stroke="#56618a" stroke-width="0.9"/>
<rect x="573.3" y="354.1" width="12.3" height="6.4" rx="1.2" fill="#7787b0" stroke="#56618a" stroke-width="0.9"/>
<rect x="570.2" y="366.4" width="15.7" height="4.4" rx="0.8" fill="#7787b0" stroke="#56618a" stroke-width="0.9"/>
<rect x="470.1" y="379.1" width="29" height="3.2" rx="1.4" fill="#c9d6d2" stroke="#5e6888" stroke-width=".7"/>
<rect x="470.1" y="379.1" width="8.7" height="3.2" rx="1.3" fill="#7585a8" stroke="#59638a" stroke-width=".6"/>
<rect x="461.2" y="390.5" width="23.2" height="3" rx="1.4" fill="#cbd7d3" stroke="#5e6888" stroke-width=".7"/>
<rect x="461.2" y="390.5" width="5.8" height="3" rx="1.3" fill="#7585a8" stroke="#59638a" stroke-width=".6"/>
<rect x="461.2" y="394.7" width="23.2" height="3" rx="1.4" fill="#cbd7d3" stroke="#5e6888" stroke-width=".7"/>
<rect x="461.2" y="394.7" width="5.8" height="3" rx="1.3" fill="#7585a8" stroke="#59638a" stroke-width=".6"/>
<rect x="461.2" y="398.8" width="23.2" height="3" rx="1.4" fill="#cbd7d3" stroke="#5e6888" stroke-width=".7"/>
<rect x="461.2" y="398.8" width="5.8" height="3" rx="1.3" fill="#7585a8" stroke="#59638a" stroke-width=".6"/>
<rect x="505.2" y="388.9" width="9.8" height="11.9" rx="0.4" fill="#7787b0" stroke="#56618a" stroke-width="0.9"/>
<rect x="527.9" y="391.3" width="9.7" height="12.5" rx="0.4" fill="#7787b0" stroke="#56618a" stroke-width="0.9"/>
<rect x="549.8" y="396" width="9" height="6.6" rx="1.4" fill="#7787b0" stroke="#56618a" stroke-width="0.9"/>
<rect x="568.1" y="395.8" width="13.7" height="7.1" rx="0.4" fill="#7787b0" stroke="#56618a" stroke-width="0.9"/>
<rect x="552.4" y="403.8" width="6.4" height="2.6" rx="1" fill="#fbfbfb" stroke="#8a93a0" stroke-width=".5"/>
<rect x="639.4" y="303" width="24.4" height="15" rx="1.2" fill="#cdd8d9" stroke="#8c9a98" stroke-width=".7"/>
<path d="M640.4 303h22.4a1 1 0 0 1 1 1v2.6h-24.4v-2.6a1 1 0 0 1 1-1z" fill="#a9b5ab"/>
<rect x="684.8" y="310.2" width="10" height="20.4" rx="4.8" fill="#f0f2ec" filter="url(#bl2)"/>
<rect x="686.4" y="313" width="6.9" height="3.4" rx=".8" fill="#8090b2" stroke="#5e6c94" stroke-width=".7"/>
<rect x="686.4" y="318.7" width="6.9" height="3.4" rx=".8" fill="#8090b2" stroke="#5e6c94" stroke-width=".7"/>
<rect x="686.4" y="324.1" width="6.9" height="3.4" rx=".8" fill="#8090b2" stroke="#5e6c94" stroke-width=".7"/>
<rect x="675.1" y="341.9" width="29.9" height="26.1" fill="#e6eae4"/>
<rect x="676.3" y="343.1" width="27.5" height="23.7" fill="#8e9ec4" stroke="#62708f" stroke-width=".8"/>
<path d="M690 355.2L682.57 363.45A11.1 11.1 0 1 1 697.43 363.45Z" fill="#c04c1a"/>
<path d="M690 355.2L683.17 362.78A10.2 10.2 0 1 1 696.83 362.78Z" fill="#7f2a55"/>
<path d="M690 355.2L685.78 359.88A6.3 6.3 0 1 1 694.22 359.88Z" fill="#6e1836"/>
<path d="M690 355.2L686.45 359.14A5.3 5.3 0 1 1 693.55 359.14Z" fill="#154f1b"/>
<path d="M690 352.6l-.9 2.4h1.6z" fill="#9fb49a"/>
</g>
<rect x="192" y="148.8" width="100.4" height="389.8" fill="none" stroke="#fb0007" stroke-width="2.4"/>
<rect x="368.6" y="247.5" width="235.9" height="178.5" fill="none" stroke="#fb0007" stroke-width="2.6"/>
<rect x="631.5" y="292" width="40.6" height="37.6" fill="none" stroke="#fb0007" stroke-width="2.5"/>
</g>
</svg>
</body></html>
